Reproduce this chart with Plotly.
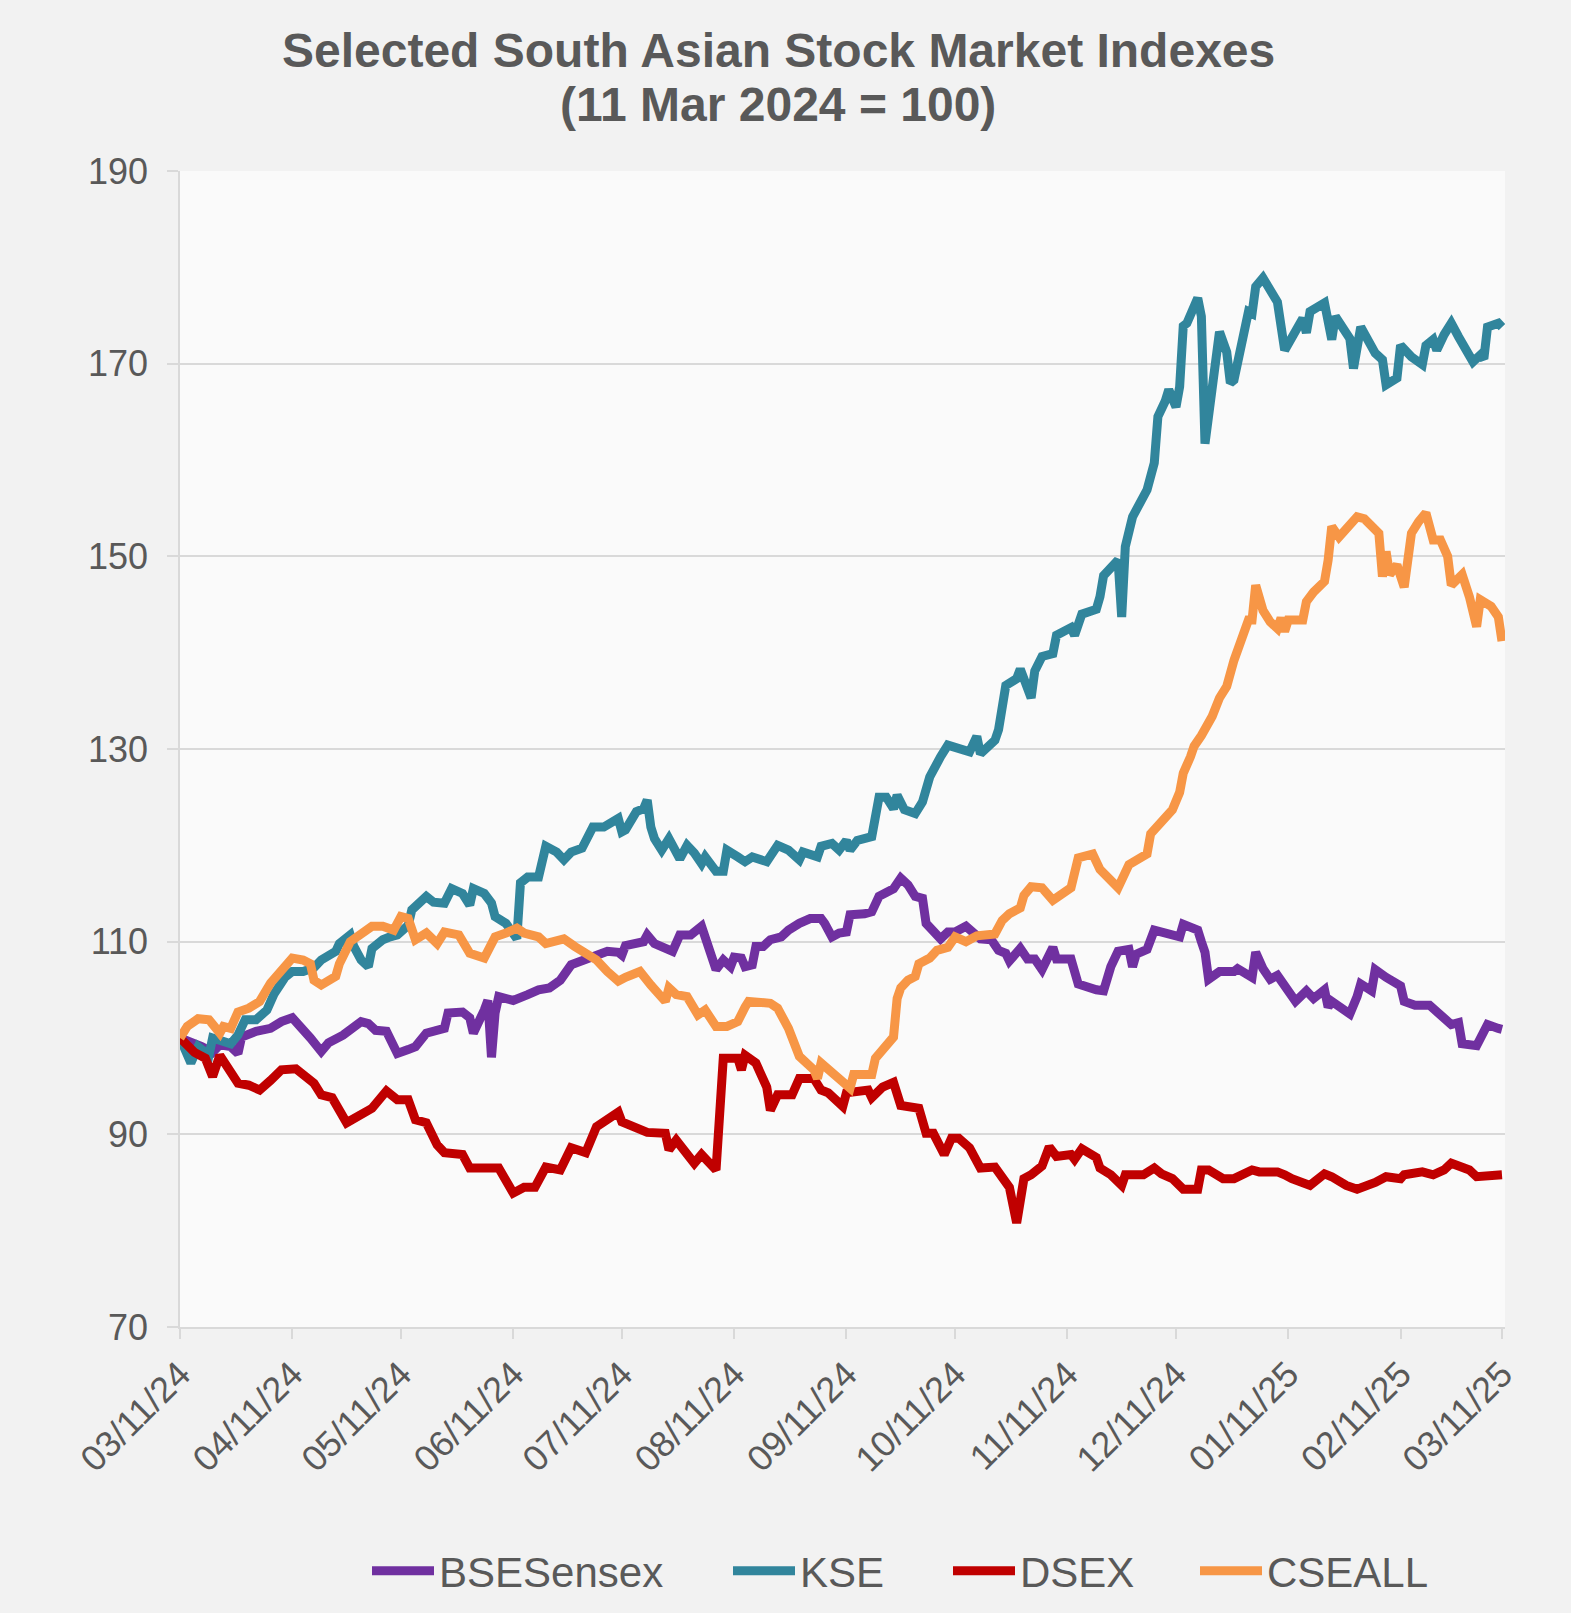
import plotly.graph_objects as go

# ---------------- data ----------------
bse = [("2024-03-11",100.0),("2024-03-15",99.5),("2024-03-17",99.1),("2024-03-20",98.5),("2024-03-22",99.3),("2024-03-25",99.1),("2024-03-27",98.4),("2024-03-28",100.1),("2024-04-01",100.7),("2024-04-05",101.0),("2024-04-08",101.7),("2024-04-11",102.1),("2024-04-14",101.0),("2024-04-16",100.0),("2024-04-19",98.6),("2024-04-21",99.5),("2024-04-25",100.3),("2024-04-27",100.8),("2024-04-30",101.7),("2024-05-02",101.5),("2024-05-04",100.8),("2024-05-07",100.7),("2024-05-09",99.1),("2024-05-10",98.4),("2024-05-13",98.8),("2024-05-15",99.1),("2024-05-18",100.5),("2024-05-21",100.8),("2024-05-23",101.0),("2024-05-24",102.6),("2024-05-28",102.7),("2024-05-30",102.1),("2024-05-31",100.5),("2024-06-03",102.9),("2024-06-04",103.9),("2024-06-05",98.0),("2024-06-06",102.6),("2024-06-07",104.3),("2024-06-11",103.9),("2024-06-15",104.5),("2024-06-18",105.0),("2024-06-21",105.2),("2024-06-24",106.0),("2024-06-27",107.6),("2024-06-29",107.9),("2024-07-03",108.6),("2024-07-07",109.0),("2024-07-10",108.9),("2024-07-11",108.6),("2024-07-12",109.6),("2024-07-17",110.0),("2024-07-18",110.7),("2024-07-20",109.8),("2024-07-25",109.0),("2024-07-27",110.7),("2024-07-30",110.7),("2024-08-02",111.6),("2024-08-06",107.1),("2024-08-08",108.1),("2024-08-10",107.4),("2024-08-11",108.4),("2024-08-13",108.3),("2024-08-14",107.4),("2024-08-16",107.6),("2024-08-17",109.5),("2024-08-19",109.5),("2024-08-21",110.2),("2024-08-24",110.5),("2024-08-26",111.2),("2024-08-29",111.9),("2024-09-01",112.4),("2024-09-04",112.4),("2024-09-05",111.9),("2024-09-07",110.5),("2024-09-09",110.9),("2024-09-11",111.0),("2024-09-12",112.8),("2024-09-16",112.9),("2024-09-18",113.1),("2024-09-20",114.7),("2024-09-22",115.2),("2024-09-24",115.5),("2024-09-26",116.6),("2024-09-28",115.9),("2024-09-30",114.7),("2024-10-02",114.5),("2024-10-03",111.9),("2024-10-05",111.0),("2024-10-07",110.3),("2024-10-09",111.0),("2024-10-11",111.0),("2024-10-14",111.6),("2024-10-16",111.0),("2024-10-18",110.3),("2024-10-21",110.2),("2024-10-23",109.1),("2024-10-25",108.8),("2024-10-26",108.0),("2024-10-29",109.3),("2024-10-31",108.2),("2024-11-02",108.2),("2024-11-04",107.1),("2024-11-07",109.4),("2024-11-08",108.2),("2024-11-12",108.2),("2024-11-14",105.6),("2024-11-19",105.0),("2024-11-21",104.9),("2024-11-23",107.4),("2024-11-25",109.0),("2024-11-28",109.2),("2024-11-29",107.4),("2024-11-30",108.7),("2024-12-03",109.2),("2024-12-05",111.2),("2024-12-10",110.8),("2024-12-12",110.5),("2024-12-13",111.8),("2024-12-17",111.2),("2024-12-18",110.0),("2024-12-19",108.9),("2024-12-20",106.1),("2024-12-23",106.9),("2024-12-27",106.9),("2024-12-28",107.2),("2025-01-01",106.3),("2025-01-02",108.9),("2025-01-04",107.2),("2025-01-06",106.1),("2025-01-08",106.5),("2025-01-10",105.4),("2025-01-13",103.8),("2025-01-16",104.9),("2025-01-18",104.1),("2025-01-21",105.0),("2025-01-22",103.2),("2025-01-23",103.8),("2025-01-28",102.5),("2025-01-30",104.3),("2025-01-31",105.6),("2025-02-03",104.9),("2025-02-04",107.1),("2025-02-07",106.3),("2025-02-11",105.4),("2025-02-12",103.8),("2025-02-15",103.4),("2025-02-19",103.4),("2025-02-22",102.3),("2025-02-25",101.4),("2025-02-27",101.6),("2025-02-28",99.4),("2025-03-04",99.2),("2025-03-07",101.4),("2025-03-10",101.0),("2025-03-11",100.9)]

kse = [("2024-03-11",100.0),("2024-03-14",97.4),("2024-03-16",99.1),("2024-03-19",98.2),("2024-03-20",100.0),("2024-03-25",99.4),("2024-03-27",100.3),("2024-03-29",101.9),("2024-04-01",101.9),("2024-04-04",102.9),("2024-04-06",104.6),("2024-04-09",106.3),("2024-04-11",106.9),("2024-04-14",106.9),("2024-04-17",107.3),("2024-04-19",108.1),("2024-04-23",109.0),("2024-04-24",109.8),("2024-04-27",110.7),("2024-04-28",109.5),("2024-04-30",108.1),("2024-05-02",107.4),("2024-05-03",109.3),("2024-05-06",110.2),("2024-05-08",110.5),("2024-05-10",110.7),("2024-05-13",111.7),("2024-05-14",113.3),("2024-05-18",114.7),("2024-05-20",114.1),("2024-05-23",114.0),("2024-05-25",115.5),("2024-05-28",115.0),("2024-05-30",113.8),("2024-05-31",115.5),("2024-06-03",115.0),("2024-06-05",114.0),("2024-06-06",112.6),("2024-06-09",111.9),("2024-06-12",110.3),("2024-06-13",116.1),("2024-06-15",116.7),("2024-06-18",116.7),("2024-06-20",119.9),("2024-06-23",119.3),("2024-06-25",118.5),("2024-06-27",119.3),("2024-06-30",119.7),("2024-07-03",121.9),("2024-07-06",121.9),("2024-07-10",122.8),("2024-07-11",121.4),("2024-07-12",121.6),("2024-07-15",123.5),("2024-07-17",123.8),("2024-07-18",124.7),("2024-07-19",121.9),("2024-07-20",120.7),("2024-07-22",119.5),("2024-07-24",120.7),("2024-07-27",118.6),("2024-07-29",120.0),("2024-07-31",119.2),("2024-08-02",118.1),("2024-08-03",118.8),("2024-08-06",117.3),("2024-08-08",117.3),("2024-08-09",119.5),("2024-08-12",118.8),("2024-08-14",118.3),("2024-08-16",118.8),("2024-08-20",118.3),("2024-08-23",120.0),("2024-08-26",119.5),("2024-08-29",118.5),("2024-08-30",119.3),("2024-09-03",118.8),("2024-09-04",119.9),("2024-09-07",120.2),("2024-09-09",119.5),("2024-09-11",120.5),("2024-09-12",119.5),("2024-09-14",120.5),("2024-09-18",120.9),("2024-09-20",125.0),("2024-09-22",125.0),("2024-09-24",123.8),("2024-09-25",125.2),("2024-09-27",123.7),("2024-09-30",123.3),("2024-10-02",124.5),("2024-10-04",127.1),("2024-10-07",129.2),("2024-10-09",130.4),("2024-10-15",129.7),("2024-10-17",131.3),("2024-10-18",129.5),("2024-10-22",130.9),("2024-10-23",132.0),("2024-10-25",136.6),("2024-10-28",137.3),("2024-10-29",138.3),("2024-11-01",135.3),("2024-11-02",138.1),("2024-11-04",139.6),("2024-11-07",139.9),("2024-11-08",141.8),("2024-11-12",142.6),("2024-11-13",141.8),("2024-11-15",144.0),("2024-11-19",144.5),("2024-11-20",145.8),("2024-11-21",148.0),("2024-11-25",149.6),("2024-11-26",143.7),("2024-11-27",151.0),("2024-11-29",154.1),("2024-12-03",156.9),("2024-12-05",159.7),("2024-12-06",164.5),("2024-12-08",166.1),("2024-12-09",167.3),("2024-12-11",165.5),("2024-12-12",167.6),("2024-12-13",173.9),("2024-12-14",174.2),("2024-12-17",176.8),("2024-12-18",174.9),("2024-12-19",161.7),("2024-12-21",167.3),("2024-12-23",173.3),("2024-12-25",171.2),("2024-12-26",168.0),("2024-12-27",168.3),("2024-12-30",173.5),("2024-12-31",175.4),("2025-01-01",175.2),("2025-01-02",178.0),("2025-01-04",178.9),("2025-01-05",178.2),("2025-01-07",177.0),("2025-01-08",176.4),("2025-01-10",171.4),("2025-01-11",172.1),("2025-01-12",172.8),("2025-01-15",174.7),("2025-01-16",173.2),("2025-01-17",175.4),("2025-01-21",176.3),("2025-01-23",172.5),("2025-01-24",174.9),("2025-01-28",172.6),("2025-01-29",169.5),("2025-01-31",173.8),("2025-02-04",171.1),("2025-02-06",170.4),("2025-02-07",167.8),("2025-02-10",168.5),("2025-02-11",171.9),("2025-02-14",170.7),("2025-02-17",169.9),("2025-02-18",171.9),("2025-02-20",172.5),("2025-02-21",171.4),("2025-02-23",173.0),("2025-02-25",174.2),("2025-02-27",172.8),("2025-03-03",170.2),("2025-03-05",170.9),("2025-03-06",170.5),("2025-03-07",173.8),("2025-03-10",174.2),("2025-03-11",173.8)]

dsex = [("2024-03-11",100.0),("2024-03-15",98.5),("2024-03-18",97.9),("2024-03-20",96.0),("2024-03-22",98.2),("2024-03-25",96.5),("2024-03-27",95.3),("2024-03-30",95.1),("2024-04-02",94.6),("2024-04-05",95.6),("2024-04-08",96.7),("2024-04-12",96.8),("2024-04-17",95.3),("2024-04-19",94.1),("2024-04-22",93.8),("2024-04-26",91.2),("2024-05-01",92.2),("2024-05-03",92.7),("2024-05-07",94.5),("2024-05-10",93.6),("2024-05-13",93.6),("2024-05-15",91.5),("2024-05-18",91.2),("2024-05-21",88.9),("2024-05-23",88.1),("2024-05-28",87.9),("2024-05-30",86.5),("2024-06-03",86.6),("2024-06-07",86.5),("2024-06-11",83.9),("2024-06-14",84.5),("2024-06-17",84.5),("2024-06-20",86.6),("2024-06-24",86.3),("2024-06-27",88.6),("2024-07-01",88.1),("2024-07-04",90.8),("2024-07-10",92.3),("2024-07-11",91.3),("2024-07-18",90.2),("2024-07-23",90.1),("2024-07-24",88.4),("2024-07-26",89.4),("2024-07-31",87.0),("2024-08-02",87.9),("2024-08-06",86.3),("2024-08-08",97.9),("2024-08-12",97.9),("2024-08-13",96.7),("2024-08-14",98.2),("2024-08-17",97.4),("2024-08-20",94.9),("2024-08-21",92.5),("2024-08-23",94.1),("2024-08-27",94.1),("2024-08-29",95.8),("2024-09-02",95.8),("2024-09-04",94.6),("2024-09-06",94.3),("2024-09-10",92.9),("2024-09-11",94.3),("2024-09-17",94.6),("2024-09-18",93.8),("2024-09-21",94.9),("2024-09-24",95.4),("2024-09-26",93.0),("2024-10-01",92.7),("2024-10-03",90.1),("2024-10-05",90.1),("2024-10-08",87.9),("2024-10-10",89.6),("2024-10-12",89.6),("2024-10-15",88.6),("2024-10-18",86.5),("2024-10-22",86.6),("2024-10-26",84.5),("2024-10-28",80.8),("2024-10-30",85.4),("2024-11-01",85.8),("2024-11-04",86.7),("2024-11-06",88.7),("2024-11-08",87.7),("2024-11-12",87.9),("2024-11-13",87.4),("2024-11-15",88.5),("2024-11-19",87.6),("2024-11-20",86.5),("2024-11-23",85.8),("2024-11-26",84.7),("2024-11-27",85.8),("2024-12-02",85.8),("2024-12-05",86.5),("2024-12-07",85.9),("2024-12-10",85.4),("2024-12-13",84.3),("2024-12-17",84.3),("2024-12-18",86.3),("2024-12-20",86.3),("2024-12-24",85.4),("2024-12-27",85.4),("2024-12-31",86.1),("2025-01-01",86.3),("2025-01-03",86.1),("2025-01-08",86.1),("2025-01-10",85.8),("2025-01-12",85.4),("2025-01-17",84.7),("2025-01-21",85.9),("2025-01-23",85.6),("2025-01-27",84.7),("2025-01-30",84.3),("2025-02-01",84.5),("2025-02-04",85.0),("2025-02-07",85.6),("2025-02-11",85.4),("2025-02-12",85.8),("2025-02-17",86.1),("2025-02-20",85.8),("2025-02-23",86.3),("2025-02-25",87.0),("2025-02-27",86.7),("2025-03-02",86.3),("2025-03-04",85.6),("2025-03-08",85.8),("2025-03-11",85.8)]

cseall = [("2024-03-11",100.0),("2024-03-13",101.2),("2024-03-16",102.0),("2024-03-19",101.9),("2024-03-22",100.5),("2024-03-23",101.2),("2024-03-25",101.0),("2024-03-27",102.7),("2024-03-30",103.1),("2024-04-02",103.8),("2024-04-05",105.7),("2024-04-08",107.1),("2024-04-11",108.3),("2024-04-14",108.1),("2024-04-16",107.7),("2024-04-17",106.0),("2024-04-19",105.5),("2024-04-23",106.4),("2024-04-24",107.7),("2024-04-27",110.0),("2024-05-01",111.0),("2024-05-03",111.6),("2024-05-06",111.6),("2024-05-09",111.2),("2024-05-11",112.6),("2024-05-13",112.4),("2024-05-15",110.2),("2024-05-18",110.9),("2024-05-21",109.8),("2024-05-23",111.0),("2024-05-27",110.7),("2024-05-30",108.8),("2024-06-03",108.3),("2024-06-06",110.5),("2024-06-09",110.9),("2024-06-12",111.4),("2024-06-14",110.9),("2024-06-18",110.5),("2024-06-20",109.8),("2024-06-25",110.3),("2024-06-28",109.5),("2024-06-30",109.1),("2024-07-04",108.1),("2024-07-07",106.9),("2024-07-10",105.9),("2024-07-12",106.3),("2024-07-16",106.9),("2024-07-19",105.5),("2024-07-23",103.8),("2024-07-24",105.2),("2024-07-26",104.5),("2024-07-29",104.3),("2024-08-01",102.4),("2024-08-03",102.9),("2024-08-06",101.2),("2024-08-09",101.2),("2024-08-12",101.7),("2024-08-14",103.2),("2024-08-15",103.8),("2024-08-21",103.6),("2024-08-23",103.1),("2024-08-26",101.0),("2024-08-27",100.1),("2024-08-29",98.1),("2024-09-02",96.7),("2024-09-03",95.8),("2024-09-04",97.4),("2024-09-07",96.5),("2024-09-10",95.6),("2024-09-12",94.8),("2024-09-13",96.2),("2024-09-18",96.2),("2024-09-19",97.9),("2024-09-22",99.3),("2024-09-24",100.1),("2024-09-25",104.1),("2024-09-26",105.2),("2024-09-28",106.0),("2024-09-30",106.4),("2024-10-01",107.7),("2024-10-04",108.3),("2024-10-06",109.1),("2024-10-09",109.4),("2024-10-11",110.5),("2024-10-14",110.0),("2024-10-17",110.6),("2024-10-22",110.8),("2024-10-24",112.2),("2024-10-26",112.9),("2024-10-29",113.5),("2024-10-30",114.8),("2024-11-01",115.7),("2024-11-04",115.6),("2024-11-07",114.3),("2024-11-09",114.8),("2024-11-12",115.6),("2024-11-14",118.7),("2024-11-18",119.1),("2024-11-20",117.5),("2024-11-22",116.8),("2024-11-25",115.6),("2024-11-28",118.0),("2024-11-30",118.5),("2024-12-03",119.1),("2024-12-04",121.2),("2024-12-07",122.4),("2024-12-10",123.7),("2024-12-12",125.5),("2024-12-13",127.5),("2024-12-15",129.2),("2024-12-16",130.3),("2024-12-18",131.4),("2024-12-20",132.5),("2024-12-21",133.4),("2024-12-23",135.3),("2024-12-25",136.5),("2024-12-27",139.2),("2024-12-29",141.0),("2024-12-31",143.4),("2025-01-01",143.4),("2025-01-02",147.0),("2025-01-04",144.4),("2025-01-06",143.2),("2025-01-08",142.5),("2025-01-09",143.6),("2025-01-10",142.2),("2025-01-11",143.4),("2025-01-15",143.4),("2025-01-16",145.3),("2025-01-18",146.3),("2025-01-21",147.4),("2025-01-22",149.6),("2025-01-23",153.1),("2025-01-25",152.0),("2025-01-28",153.4),("2025-01-30",154.1),("2025-02-01",153.9),("2025-02-04",152.7),("2025-02-05",152.4),("2025-02-06",147.9),("2025-02-07",150.5),("2025-02-08",148.1),("2025-02-10",149.1),("2025-02-12",146.8),("2025-02-14",152.4),("2025-02-16",153.6),("2025-02-18",154.5),("2025-02-20",151.7),("2025-02-22",151.7),("2025-02-24",150.0),("2025-02-25",147.0),("2025-02-28",148.1),("2025-03-02",145.8),("2025-03-04",142.7),("2025-03-05",145.5),("2025-03-08",144.8),("2025-03-10",143.7),("2025-03-11",141.2)]

series_names = ["BSESensex", "KSE", "DSEX", "CSEALL"]
series_data = [bse, kse, dsex, cseall]
series_colors = ["#7030A0", "#31859C", "#C00000", "#F79646"]

tick_dates = ["2024-03-11", "2024-04-11", "2024-05-11", "2024-06-11", "2024-07-11",
              "2024-08-11", "2024-09-11", "2024-10-11", "2024-11-11", "2024-12-11",
              "2025-01-11", "2025-02-11", "2025-03-11"]
tick_labels = ["03/11/24", "04/11/24", "05/11/24", "06/11/24", "07/11/24", "08/11/24",
               "09/11/24", "10/11/24", "11/11/24", "12/11/24", "01/11/25", "02/11/25",
               "03/11/25"]
y_ticks = [70, 90, 110, 130, 150, 170, 190]

title_line1 = "Selected South Asian Stock Market Indexes"
title_line2 = "(11 Mar 2024 = 100)"

# ---------------- figure ----------------
W, H = 1571, 1613
L, R, T, B = 180, 66, 171, 286
FONT = "Liberation Sans, Arial, Helvetica, sans-serif"
TXT = "#595959"
GRID = "#d9d9d9"

fig = go.Figure()
legend_ids = ["legend", "legend2", "legend3", "legend4"]
for name, data, color, lg in zip(series_names, series_data, series_colors, legend_ids):
    xs = [d for d, v in data]
    ys = [v for d, v in data]
    fig.add_trace(go.Scatter(x=xs, y=ys, mode="lines", name=name,
                             line=dict(color=color, width=9),
                             legend=lg))

legend_x = [367, 728, 948, 1195]
legend_common = dict(xref="container", yref="container", xanchor="left", yanchor="middle",
                     orientation="h", bgcolor="rgba(0,0,0,0)", itemwidth=62,
                     font=dict(family=FONT, size=42, color=TXT))
legends = {}
for lg, lx in zip(legend_ids, legend_x):
    legends[lg] = dict(legend_common, x=lx / W, y=(H - 1571) / H)

fig.update_layout(
    width=W, height=H,
    margin=dict(l=L, r=R, t=T, b=B),
    paper_bgcolor="#f2f2f2",
    plot_bgcolor="#fafafa",
    font=dict(family=FONT, color=TXT),
    showlegend=True,
    **legends,
)

fig.update_xaxes(
    type="date",
    range=["2024-03-11", "2025-03-11 20:00"],
    tickvals=tick_dates, ticktext=tick_labels,
    tickangle=-45,
    tickfont=dict(family=FONT, size=36, color=TXT),
    ticks="outside", ticklen=10, tickcolor=GRID, tickwidth=1.5,
    showgrid=False, showline=True, linecolor=GRID, linewidth=1.5,
    zeroline=False,
)
fig.update_yaxes(
    range=[70, 190], tickvals=y_ticks,
    tickfont=dict(family=FONT, size=36, color=TXT),
    ticks="outside", ticklen=11, tickcolor=GRID, tickwidth=1.5,
    showgrid=True, gridcolor=GRID, gridwidth=1.5,
    showline=True, linecolor=GRID, linewidth=1.5,
    zeroline=False, ticklabelstandoff=12,
)

# title (two centred lines)
cx = (778 - L) / (W - L - R)
for txt, py in [(title_line1, 51), (title_line2, 105)]:
    fig.add_annotation(text="<b>" + txt + "</b>", xref="paper", yref="paper",
                       x=cx, y=(H - B - py) / (H - T - B), xanchor="center", yanchor="middle",
                       showarrow=False, font=dict(family=FONT, size=48, color=TXT))

fig.write_html("out.html", config={"displayModeBar": False},
               post_script="document.body.style.margin='0';")
